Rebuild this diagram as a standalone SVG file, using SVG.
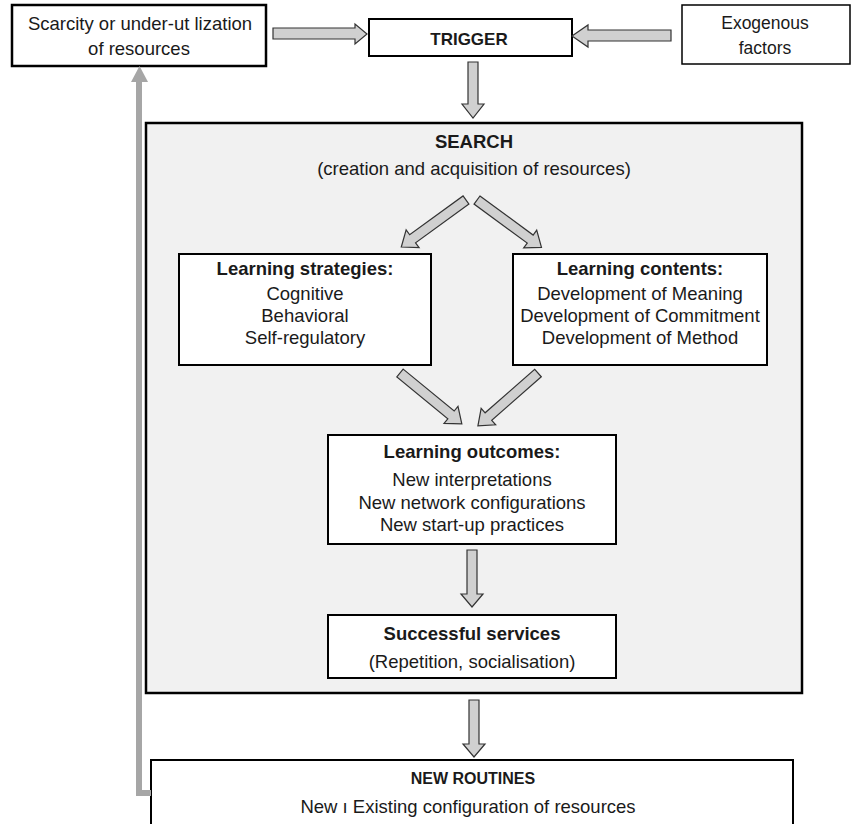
<svg xmlns="http://www.w3.org/2000/svg" width="853" height="824" viewBox="0 0 853 824">
<defs>
<style>
text{font-family:"Liberation Sans",Arial,sans-serif;fill:#1a1a1a;text-anchor:middle}
.t{font-size:18.5px}
.b{font-size:18.5px;font-weight:bold}
.box{fill:#ffffff;stroke:#000000;stroke-width:2}
.arr{fill:#d0d0d0;stroke:#333333;stroke-width:1.2;stroke-linejoin:miter}
.fb{fill:none;stroke:#a6a6a6;stroke-width:6}
</style>
<polygon id="diag" points="0,-5 66,-5 66,-11 80,0 66,11 66,5 0,5"/>
</defs>
<rect width="853" height="824" fill="#ffffff"/>

<g id="n-search">
<rect x="146" y="123" width="656" height="570" fill="#f1f1f1" stroke="#000000" stroke-width="2.5"/>
<text class="b" x="474" y="148">SEARCH</text>
<text class="t" x="474" y="175">(creation and acquisition of resources)</text>
</g>

<g id="n-scarcity">
<rect x="12" y="5" width="254" height="61" fill="#ffffff" stroke="#000000" stroke-width="2.5"/>
<text class="t" x="140" y="30">Scarcity or under-ut lization</text>
<text class="t" x="139" y="55">of resources</text>
</g>

<g id="n-trigger">
<rect class="box" x="369" y="19" width="203" height="37"/>
<text class="b" x="469" y="45" style="font-size:17px">TRIGGER</text>
</g>

<g id="n-exogenous">
<rect x="682" y="5" width="168" height="59" fill="#ffffff" stroke="#000000" stroke-width="1.5"/>
<text class="t" x="765" y="29" style="font-size:17.5px">Exogenous</text>
<text class="t" x="765" y="54" style="font-size:17.5px">factors</text>
</g>

<g id="n-strategies">
<rect class="box" x="179" y="254" width="252" height="111"/>
<text class="b" x="305" y="275">Learning strategies:</text>
<text class="t" x="305" y="300">Cognitive</text>
<text class="t" x="305" y="322">Behavioral</text>
<text class="t" x="305" y="344">Self-regulatory</text>
</g>

<g id="n-contents">
<rect class="box" x="513" y="254" width="254" height="111"/>
<text class="b" x="640" y="275">Learning contents:</text>
<text class="t" x="640" y="300">Development of Meaning</text>
<text class="t" x="640" y="322">Development of Commitment</text>
<text class="t" x="640" y="344">Development of Method</text>
</g>

<g id="n-outcomes">
<rect class="box" x="328" y="435" width="288" height="109"/>
<text class="b" x="472" y="458">Learning outcomes:</text>
<text class="t" x="472" y="486">New interpretations</text>
<text class="t" x="472" y="509">New network configurations</text>
<text class="t" x="472" y="531">New start-up practices</text>
</g>

<g id="n-services">
<rect class="box" x="328" y="615" width="288" height="63"/>
<text class="b" x="472" y="640">Successful services</text>
<text class="t" x="472" y="668">(Repetition, socialisation)</text>
</g>

<g id="n-routines">
<rect class="box" x="151" y="760" width="642" height="80"/>
<text class="b" x="473" y="784" style="font-size:16px">NEW ROUTINES</text>
<text class="t" x="468" y="813">New ı Existing configuration of resources</text>
</g>

<g id="connectors">
<polygon class="arr" points="273,28 355,28 355,24 367,34 355,44 355,39 273,39"/>
<polygon class="arr" points="671,30 588,30 588,25 572,36 588,47 588,41 671,41"/>
<polygon class="arr" points="468,62 478,62 478,104 484,104 473,118 462,104 468,104"/>
<use href="#diag" class="arr" transform="translate(466,200) rotate(144)"/>
<use href="#diag" class="arr" transform="translate(477,200) rotate(36.3)"/>
<use href="#diag" class="arr" transform="translate(400,373) rotate(39.4)"/>
<use href="#diag" class="arr" transform="translate(538,373) rotate(138.7)"/>
<polygon class="arr" points="467,550 477,550 477,594 483,594 472,607 461,594 467,594"/>
<polygon class="arr" points="469,700 479,700 479,744 485,744 474,757 463,744 469,744"/>
<path class="fb" d="M151,793 H139 V80"/>
<polygon points="131,82 139.5,66 148,82" fill="#a6a6a6"/>
</g>
</svg>
